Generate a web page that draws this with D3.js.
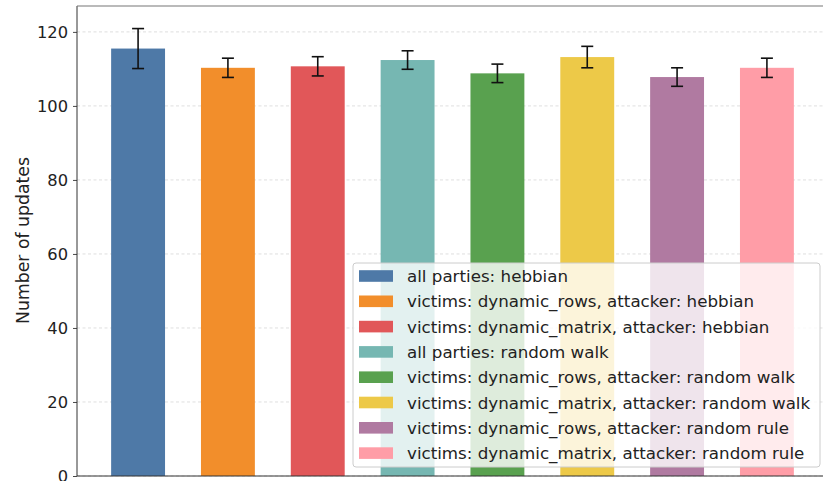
<!DOCTYPE html>
<html>
<head>
<meta charset="utf-8">
<script src="https://cdn.jsdelivr.net/npm/d3@7"></script>
<style>
  html, body { margin: 0; padding: 0; background: #fff; }
  svg { display: block; }
  text { font-family: "DejaVu Sans", sans-serif; }
</style>
</head>
<body>
<svg id="chart" width="823" height="481"></svg>
<script>
// Mean number of updates per configuration, with standard deviation
const labels = [
  "all parties: hebbian",
  "victims: dynamic_rows, attacker: hebbian",
  "victims: dynamic_matrix, attacker: hebbian",
  "all parties: random walk",
  "victims: dynamic_rows, attacker: random walk",
  "victims: dynamic_matrix, attacker: random walk",
  "victims: dynamic_rows, attacker: random rule",
  "victims: dynamic_matrix, attacker: random rule"
];
const means = [115.5, 110.3, 110.7, 112.4, 108.8, 113.2, 107.8, 110.3];
const errs = [5.4, 2.6, 2.6, 2.5, 2.5, 2.9, 2.5, 2.6];
const colors = ["#4e79a7", "#f28e2b", "#e15759", "#76b7b2", "#59a14f", "#edc948", "#b07aa1", "#ff9da7"];
const yTicks = [0, 20, 40, 60, 80, 100, 120];
const yLabel = "Number of updates";

const svg = d3.select("#chart");
const plot = { left: 77, top: 6, right: 828, bottom: 476 };

const x = d3.scaleLinear().domain([-0.68, 7.68]).range([plot.left, plot.right]);
const y = d3.scaleLinear().domain([0, 127]).range([plot.bottom, plot.top]);
const barW = 0.6;

// Horizontal dashed grid
svg.append("g").selectAll("line").data(yTicks).join("line")
  .attr("x1", plot.left).attr("x2", plot.right)
  .attr("y1", d => y(d)).attr("y2", d => y(d))
  .attr("stroke", "#b0b0b0").attr("stroke-opacity", 0.5)
  .attr("stroke-width", 0.8).attr("stroke-dasharray", "3,2.5");

// Bars
svg.append("g").selectAll("rect").data(means).join("rect")
  .attr("x", (d, i) => x(i - barW / 2))
  .attr("width", (d, i) => x(i + barW / 2) - x(i - barW / 2))
  .attr("y", d => y(d))
  .attr("height", d => y(0) - y(d))
  .attr("fill", (d, i) => colors[i]);

// Error bars
const eg = svg.append("g").attr("stroke", "#111").attr("stroke-width", 1.6);
means.forEach((m, i) => {
  const cx = x(i), hi = y(m + errs[i]), lo = y(m - errs[i]);
  eg.append("line").attr("x1", cx).attr("x2", cx).attr("y1", hi).attr("y2", lo);
  eg.append("line").attr("x1", cx - 6).attr("x2", cx + 6).attr("y1", hi).attr("y2", hi);
  eg.append("line").attr("x1", cx - 6).attr("x2", cx + 6).attr("y1", lo).attr("y2", lo);
});

// Y axis
const yAxis = d3.axisLeft(y).tickValues(yTicks).tickSize(4).tickPadding(5);
const ya = svg.append("g").attr("transform", `translate(${plot.left},0)`).call(yAxis);
ya.select(".domain").remove();
ya.selectAll(".tick line").attr("stroke", "#333").attr("stroke-width", 0.9);
ya.selectAll(".tick text").attr("font-size", 16.3).attr("fill", "#222")
  .attr("font-family", "DejaVu Sans, sans-serif");

// Spines
svg.append("line").attr("x1", plot.left).attr("x2", plot.left)
  .attr("y1", plot.top).attr("y2", plot.bottom).attr("stroke", "#333").attr("stroke-width", 1);
svg.append("line").attr("x1", plot.left).attr("x2", plot.right)
  .attr("y1", plot.top).attr("y2", plot.top).attr("stroke", "#777").attr("stroke-width", 1.2);
svg.append("line").attr("x1", plot.left).attr("x2", plot.right)
  .attr("y1", plot.bottom).attr("y2", plot.bottom).attr("stroke", "#333").attr("stroke-width", 1);

// Y label
svg.append("text")
  .attr("transform", `translate(29,${240.5}) rotate(-90)`)
  .attr("text-anchor", "middle").attr("font-size", 17.3).attr("fill", "#222")
  .text(yLabel);

// Legend
const lg = svg.append("g");
lg.append("rect").attr("x", 353).attr("y", 263).attr("width", 467).attr("height", 204)
  .attr("rx", 3).attr("fill", "#fff").attr("fill-opacity", 0.8)
  .attr("stroke", "#ccc").attr("stroke-width", 1);
labels.forEach((l, i) => {
  const cy = 276 + i * 25.3;
  lg.append("rect").attr("x", 359).attr("y", cy - 5.8).attr("width", 34).attr("height", 11.6)
    .attr("fill", colors[i]);
  lg.append("text").attr("x", 407).attr("y", cy + 6).attr("font-size", 16.7)
    .attr("fill", "#222").text(l);
});
</script>
</body>
</html>
